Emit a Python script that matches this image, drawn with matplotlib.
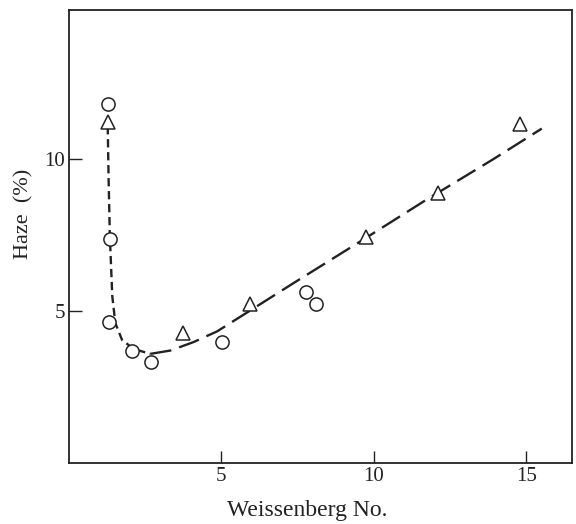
import matplotlib.pyplot as plt

# Haze vs Weissenberg number
circle_x = [1.27, 1.34, 1.32, 2.07, 2.68, 5.01, 7.78, 8.09]
circle_y = [11.8, 7.38, 4.64, 3.67, 3.32, 3.97, 5.63, 5.23]

tri_x = [1.27, 3.74, 5.93, 9.75, 12.09, 14.8]
tri_y = [11.2, 4.27, 5.24, 7.44, 8.89, 11.16]

# hand-drawn trend curve: steep branch and long branch
steep_x = [1.27, 1.30, 1.34, 1.42, 1.52, 1.74, 2.12, 2.67]
steep_y = [11.08, 9.3, 7.46, 5.48, 4.60, 4.05, 3.75, 3.59]
long_x = [2.67, 3.33, 4.09, 4.86, 5.73, 7.37, 9.56, 11.74, 13.93, 15.51]
long_y = [3.59, 3.70, 3.98, 4.33, 4.88, 5.92, 7.29, 8.67, 10.0, 11.0]

plt.rcParams['font.family'] = ['Liberation Serif', 'DejaVu Serif']

fig = plt.figure(figsize=(5.76, 5.24), dpi=100)
ax = fig.add_axes([0.1198, 0.1164, 0.8732, 0.8645])

ink = '#222222'
ax.plot(steep_x, steep_y, color=ink, lw=1.7, dashes=(3.5, 2.0))
ax.plot(long_x, long_y, color=ink, lw=1.7, dashes=(9, 3.5))

ax.plot(circle_x, circle_y, 'o', ms=9.5, mfc='white', mec=ink, mew=1.1, zorder=3)
ax.plot(tri_x, tri_y, '^', ms=10, mfc='white', mec=ink, mew=1.1, zorder=3)

ax.set_xlim(0, 16.5)
ax.set_ylim(0, 14.9)
ax.set_xticks([5, 10, 15])
ax.set_yticks([5, 10])
ax.tick_params(direction='in', length=9, width=1.0, color=ink,
               labelsize=15, labelcolor=ink, pad=3)
for s in ax.spines.values():
    s.set_linewidth(1.3)
    s.set_color(ink)

fig.text(0.533, 0.025, 'Weissenberg No.', ha='center', va='center',
         fontsize=17, color=ink)
fig.text(0.042, 0.592, 'Haze  (%)', ha='center', va='center',
         rotation=90, fontsize=16, color=ink)

fig.savefig('out.png', dpi=100, facecolor='white')
